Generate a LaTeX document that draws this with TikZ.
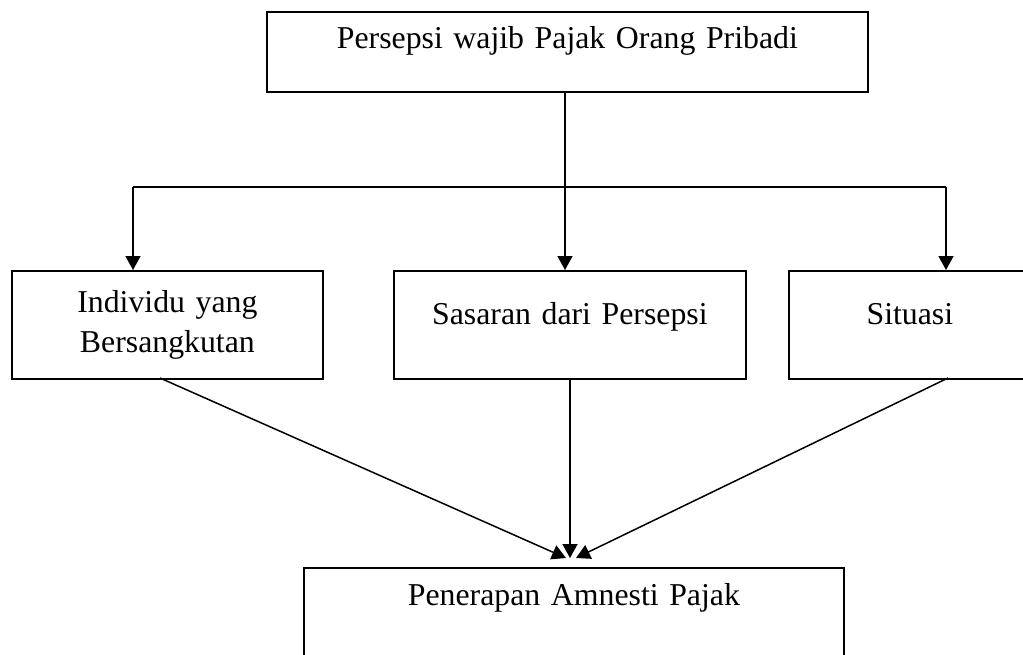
\documentclass[tikz,border=0pt]{standalone}
\usepackage{fontspec}
\setmainfont{Liberation Serif}
\usetikzlibrary{arrows.meta}
\begin{document}
\begin{tikzpicture}[x=1pt,y=-1pt,
  boxnode/.style={draw=black,line width=1.8pt,anchor=north west,inner sep=0pt,
    align=center,font=\fontsize{31.8}{40}\selectfont},
  link/.style={line width=1.5pt},
  arr/.style={line width=1.5pt,-{Triangle[length=14pt,width=15pt]}}]
\useasboundingbox (0,0) rectangle (1023,654);
\clip (0,0) rectangle (1023,654);
\node[boxnode,text width=601pt,text height=37pt,text depth=43pt] (top) at (266,11) {Persepsi wajib Pajak Orang Pribadi};
\node[boxnode,text width=311pt,text height=42pt,text depth=66pt] (left) at (11,270) {Individu yang\\Bersangkutan};
\node[boxnode,text width=352pt,text height=54pt,text depth=54pt] (mid) at (393,270) {Sasaran dari Persepsi};
\node[boxnode,text width=242pt,text height=54pt,text depth=54pt] (right) at (788,270) {Situasi};
\node[boxnode,text width=540pt,text height=38pt,text depth=75pt] (bottom) at (303,567) {Penerapan Amnesti Pajak};
\coordinate (jL) at (133,187);
\coordinate (jR) at (946,187);
\coordinate (jT) at (565,91);
\coordinate (tipL) at (566,558);
\coordinate (tipM) at (570,558);
\coordinate (tipR) at (576,558);
\coordinate (sL) at (160,378);
\coordinate (sR) at (948,378);
\draw[link] (jL) -- (jR);
\draw[arr] (jT) -- (jT |- mid.north);
\draw[arr] (jL) -- (jL |- left.north);
\draw[arr] (jR) -- (jR |- right.north);
\draw[arr] (sL) -- (tipL);
\draw[arr] (tipM |- mid.south) -- (tipM);
\draw[arr] (sR) -- (tipR);
\end{tikzpicture}
\end{document}
